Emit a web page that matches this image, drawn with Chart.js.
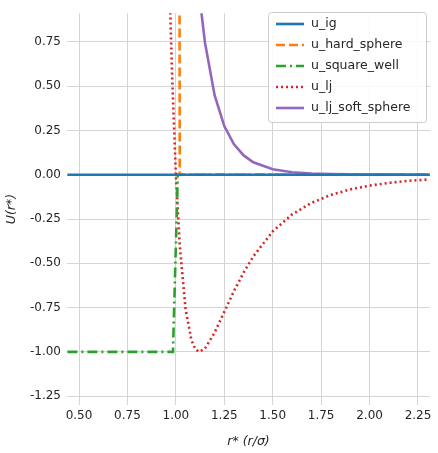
<!DOCTYPE html>
<html><head><meta charset="utf-8">
<script src="https://cdn.jsdelivr.net/npm/chart.js@4/dist/chart.umd.min.js"></script>
<style>html,body{margin:0;padding:0;background:#fff}#c{display:block}</style>
</head><body><canvas id="c" width="438" height="453"></canvas>
<script>
const seriesNames = ["u_ig","u_hard_sphere","u_square_well","u_lj","u_lj_soft_sphere"];
const xTicks = [0.5,0.75,1.0,1.25,1.5,1.75,2.0,2.25];
const yTicks = [-1.25,-1.0,-0.75,-0.5,-0.25,0,0.25,0.5,0.75];
const igX = [0.44, 2.31], igY = [0, 0];
const hsX = [1.01, 1.02, 2.31], hsY = [10, 0, 0];
const swX = [0.44, 0.985, 1.01, 1.5, 2.31], swY = [-1, -1, 0, 0, 0];
const ljX = [0.95,0.96,0.97,0.98,1.0,1.02,1.05,1.08,1.1,1.12,1.15,1.2,1.25,1.3,1.35,1.4,1.5,1.6,1.7,1.8,1.9,2.0,2.1,2.2,2.3];
const ljY = [1.96,1.418,0.963,0.582,0,-0.398,-0.758,-0.932,-0.984,-1.0,-0.982,-0.891,-0.774,-0.657,-0.552,-0.461,-0.320,-0.224,-0.159,-0.114,-0.083,-0.0615,-0.046,-0.0345,-0.027];
const ssX = [1.1,1.12,1.15,1.2,1.25,1.3,1.35,1.4,1.5,1.6,1.7,1.8,1.9,2.0,2.1,2.2,2.3];
const ssY = [1.27,1.027,0.748,0.449,0.275,0.172,0.109,0.0706,0.031,0.0142,0.0068,0.0035,0.0018,0.001,0.0005,0.0003,0.0002];
const colors = ["#1f77b4","#ff7f0e","#2ca02c","#d62728","#9467bd"];
const dashes = [[],[9,4],[10,4,2,4],[2,3],[]];
const xs=[igX,hsX,swX,ljX,ssX], ys=[igY,hsY,swY,ljY,ssY];
const datasets = seriesNames.map((n,i)=>({label:n,data:xs[i].map((x,j)=>({x,y:ys[i][j]})),borderColor:colors[i],borderDash:dashes[i],borderWidth:2.6,pointRadius:0,fill:false,tension:0}));
const font={family:"'DejaVu Sans', sans-serif",size:12};
const legendPlugin={id:'lg',afterDraw(ch){const c=ch.ctx;c.save();
 const x0=268,y0=12,w=158,h=110;c.fillStyle='rgba(255,255,255,0.85)';c.strokeStyle='#cccccc';c.lineWidth=1;
 c.beginPath();c.roundRect(x0+0.5,y0+0.5,w,h,3);c.fill();c.stroke();
 c.font="12.5px 'DejaVu Sans', sans-serif";c.textBaseline='middle';
 seriesNames.forEach((n,i)=>{const y=y0+12+i*21;c.strokeStyle=colors[i];c.lineWidth=2.6;c.setLineDash(dashes[i]);c.beginPath();c.moveTo(x0+8,y);c.lineTo(x0+36,y);c.stroke();c.setLineDash([]);c.fillStyle='#262626';c.fillText(n,x0+43,y);});
 c.restore();}};
new Chart(document.getElementById('c'),{type:'line',data:{datasets},plugins:[legendPlugin],
options:{responsive:false,animation:false,layout:{padding:{left:0,right:8,top:2,bottom:0}},
plugins:{legend:{display:false},tooltip:{enabled:false}},
scales:{
x:{type:'linear',min:0.438,max:2.312,afterBuildTicks(s){s.ticks=xTicks.map(v=>({value:v}));},afterFit(s){s.height=48;},
 ticks:{color:'#262626',font,padding:4,callback:v=>v.toFixed(2),maxRotation:0,autoSkip:false},
 grid:{color:'#d5d5d5',drawTicks:false},border:{display:false},
 title:{display:true,text:'r* (r/σ)',color:'#262626',font:{...font,size:12.5,style:'italic'},padding:{top:6}}},
y:{type:'linear',min:-1.30,max:0.912,afterBuildTicks(s){s.ticks=yTicks.map(v=>({value:v}));},afterFit(s){s.width=67;},
 ticks:{color:'#262626',font,padding:6,callback:v=>v.toFixed(2),autoSkip:false},
 grid:{color:'#d5d5d5',drawTicks:false},border:{display:false},
 title:{display:true,text:'U(r*)',color:'#262626',font:{...font,size:12.5,style:'italic'},padding:{bottom:4}}}
}}});
</script></body></html>
